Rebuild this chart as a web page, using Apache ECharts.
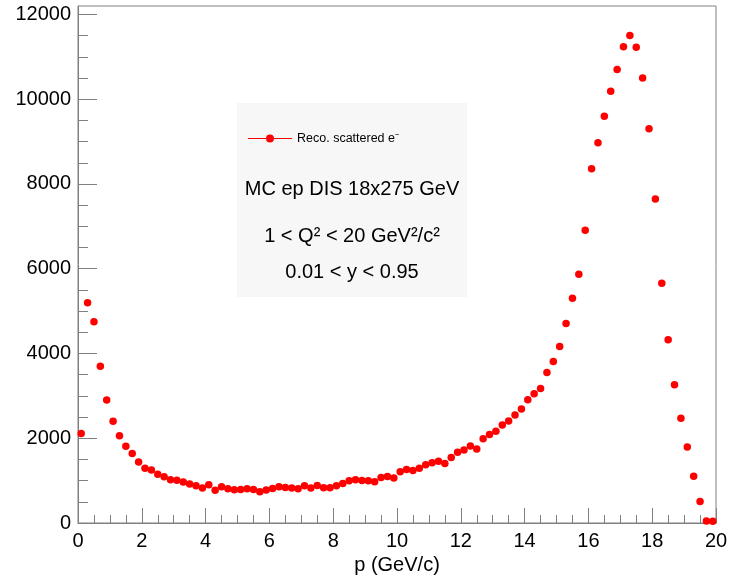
<!DOCTYPE html>
<html><head><meta charset="utf-8">
<script src="https://cdn.jsdelivr.net/npm/echarts@6/dist/echarts.min.js"></script>
<style>html,body{margin:0;padding:0;background:#fff}#c{width:730px;height:577px}</style>
</head><body><div id="c"></div>
<script>
const pCenters = [0.1,0.3,0.5,0.7,0.9,1.1,1.3,1.5,1.7,1.9,2.1,2.3,2.5,2.7,2.9,3.1,3.3,3.5,3.7,3.9,
  4.1,4.3,4.5,4.7,4.9,5.1,5.3,5.5,5.7,5.9,6.1,6.3,6.5,6.7,6.9,7.1,7.3,7.5,7.7,7.9,
  8.1,8.3,8.5,8.7,8.9,9.1,9.3,9.5,9.7,9.9,10.1,10.3,10.5,10.7,10.9,11.1,11.3,11.5,11.7,11.9,
  12.1,12.3,12.5,12.7,12.9,13.1,13.3,13.5,13.7,13.9,14.1,14.3,14.5,14.7,14.9,15.1,15.3,15.5,15.7,15.9,
  16.1,16.3,16.5,16.7,16.9,17.1,17.3,17.5,17.7,17.9,18.1,18.3,18.5,18.7,18.9,19.1,19.3,19.5,19.7,19.9];
const counts = [2110,5200,4750,3700,2900,2400,2060,1810,1640,1440,1290,1250,1150,1090,1020,1010,965,920,880,825,
  900,770,855,808,784,790,810,792,737,776,816,855,839,824,808,878,824,886,831,831,
  878,933,996,1020,1004,996,973,1075,1098,1059,1208,1263,1239,1294,1372,1420,1459,1404,1545,1671,
  1725,1815,1745,1990,2087,2165,2314,2408,2549,2690,2910,3051,3176,3553,3812,4165,4706,5302,5867,6910,
  8361,8973,9600,10189,10699,11240,11506,11224,10502,9302,7647,5655,4322,3263,2471,1796,1106,510,50,40];
const yMajorTicks = [0,2000,4000,6000,8000,10000,12000];
const yMinorTicks = [500,1000,1500,2500,3000,3500,4500,5000,5500,6500,7000,7500,8500,9000,9500,10500,11000,11500];
const seriesName = 'Reco. scattered e\u207B';
const xTitle = 'p (GeV/c)';
const yTitle = 'Counts';
const infoLines = ['MC ep DIS 18x275 GeV', '1 < Q\u00B2 < 20 GeV\u00B2/c\u00B2', '0.01 < y < 0.95'];

const FONT = '"Liberation Sans", Arial, Helvetica, sans-serif';
const GRAY = '#808080';
const chart = echarts.init(document.getElementById('c'), null, {renderer: 'canvas'});
const points = pCenters.map((p, i) => [p, counts[i]]);
const plain = v => String(v);

chart.setOption({
  animation: false,
  backgroundColor: '#fff',
  textStyle: {fontFamily: FONT},
  grid: {left: 78, right: 14, top: 6, bottom: 54, containLabel: false, outerBoundsMode: 'none',
         show: true, borderColor: GRAY, borderWidth: 1, backgroundColor: 'transparent'},
  legend: {
    data: [seriesName], left: 243, top: 127, itemWidth: 44, itemHeight: 8, itemGap: 0,
    icon: 'path://M0,3.5H18V4.5H0Z M26,3.5H44V4.5H26Z M18,4A4,4 0 1,1 26,4A4,4 0 1,1 18,4Z',
    textStyle: {fontSize: 12.5, color: '#000', fontFamily: FONT},
    selectedMode: false
  },
  xAxis: {
    type: 'value', min: 0, max: 20, interval: 2,
    name: xTitle, nameLocation: 'middle', nameGap: 31,
    nameTextStyle: {fontSize: 20, color: '#000', fontFamily: FONT},
    axisLine: {show: true, lineStyle: {color: GRAY, width: 1}},
    axisTick: {show: true, inside: true, length: 15, lineStyle: {color: GRAY}},
    minorTick: {show: true, splitNumber: 4, length: 8, lineStyle: {color: GRAY}},
    axisLabel: {fontSize: 20, color: '#000', margin: 8, fontFamily: FONT, formatter: plain},
    splitLine: {show: false}, minorSplitLine: {show: false}
  },
  yAxis: [{
    type: 'value', min: 0, max: 12200, position: 'left',
    name: yTitle, nameLocation: 'middle', nameGap: 72, nameRotate: 90,
    nameTextStyle: {fontSize: 19, color: '#e2e2e2', fontFamily: FONT},
    axisLine: {show: true, lineStyle: {color: GRAY, width: 1}},
    axisTick: {show: true, inside: true, length: 19, lineStyle: {color: GRAY}, customValues: yMajorTicks},
    axisLabel: {fontSize: 20, color: '#000', margin: 7, fontFamily: FONT, customValues: yMajorTicks, formatter: plain},
    splitLine: {show: false}
  }, {
    type: 'value', min: 0, max: 12200, position: 'left',
    axisLine: {show: false},
    axisTick: {show: true, inside: true, length: 10, lineStyle: {color: GRAY}, customValues: yMinorTicks},
    axisLabel: {show: false},
    splitLine: {show: false}
  }],
  graphic: [
    {type: 'rect', z: -10, silent: true, shape: {x: 237, y: 103, width: 230, height: 194}, style: {fill: '#f7f7f7'}},
    {type: 'text', x: 352, y: 189, style: {text: infoLines[0], font: '20px ' + FONT, fill: '#000', textAlign: 'center', textVerticalAlign: 'middle'}},
    {type: 'text', x: 352, y: 236, style: {text: infoLines[1], font: '20px ' + FONT, fill: '#000', textAlign: 'center', textVerticalAlign: 'middle'}},
    {type: 'text', x: 352, y: 272, style: {text: infoLines[2], font: '20px ' + FONT, fill: '#000', textAlign: 'center', textVerticalAlign: 'middle'}}
  ],
  series: [{
    name: seriesName, type: 'scatter', xAxisIndex: 0, yAxisIndex: 0,
    data: points, symbol: 'circle', symbolSize: 7.5,
    itemStyle: {color: '#ff0000', opacity: 1}
  }]
});
</script>
</body></html>
